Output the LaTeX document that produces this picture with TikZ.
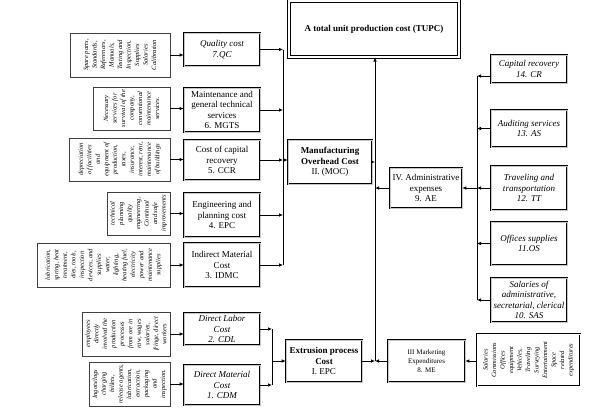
\documentclass[tikz,border=0pt]{standalone}
\usepackage{fontspec}
\setmainfont{Liberation Serif}
\usetikzlibrary{arrows.meta}
\begin{document}
\begin{tikzpicture}[x=1pt,y=-1pt,
  dbox/.style={draw=black, double=gray!45, double distance=1pt, line width=0.6pt, fill=white, inner sep=0pt, align=center, font=\fontsize{9}{10.5}\selectfont},
  ibox/.style={dbox, font=\fontsize{9}{10.5}\selectfont\itshape},
  topbox/.style={draw=black, double=white, double distance=1.6pt, line width=1pt, fill=white, inner sep=0pt, font=\fontsize{9}{11}\selectfont\bfseries},
  note/.style={draw=black!75, line width=0.7pt, fill=white, inner sep=0pt},
  ntext/.style={rotate=90, align=center, font=\fontsize{6.5}{8.5}\selectfont\itshape, inner sep=0pt},
  arr/.style={-{Latex[length=4pt,width=3.5pt]}, line width=0.7pt},
  ln/.style={line width=0.7pt}
]
\useasboundingbox (0,0) rectangle (590,408);

% top box
\node[topbox, minimum width=170, minimum height=56] (tupc) at (374,29) {A total unit production cost (TUPC)};

% left notes
\node[note, minimum width=100, minimum height=44] (nqc) at (120,55) {};
\node[ntext] (tqc) at (nqc) {Spare parts,\\Standards,\\References,\\Manuals,\\Testing and\\Inspection,\\Supplies\\Salaries\\Calibration};
\node[note, minimum width=77, minimum height=43] (nmgts) at (131.5,108.5) {};
\node[ntext] (tmgts) at (nmgts) {Necessary\\services for\\survival of the\\company,\\conventional\\maintenance\\services.};
\node[note, minimum width=101, minimum height=43] (nccr) at (119.5,159.5) {};
\node[ntext] (tccr) at (nccr) {depreciation\\of facilities\\and\\equipment of\\production,\\taxes,\\insurance,\\interest, rent,\\maintenance\\of buildings};
\node[note, minimum width=63, minimum height=43] (nepc) at (138.5,213.5) {};
\node[ntext] (tepc) at (nepc) {technical\\planning\\quality\\engineering,\\Continual\\and safe\\improvements};
\node[note, minimum width=133, minimum height=44] (nidmc) at (103.5,265) {};
\node[ntext] (tidmc) at (nidmc) {lubrication,\\spring, heat\\treatment,\\dies, tools,\\inspection\\devices, and\\supplies\\water,\\lighting,\\heating fuel,\\electricity\\power and\\maintenance\\supplies};
\node[note, minimum width=88, minimum height=44] (ncdl) at (126,334) {};
\node[ntext] (tcdl) at (ncdl) {employees\\directly\\involved the\\production\\processes\\from ore in\\raw, wages\\salaries,\\fringe, direct\\workers};
\node[note, minimum width=81, minimum height=44] (ncdm) at (129.5,384) {};
\node[ntext] (tcdm) at (ncdm) {Ingots/logs\\charging\\billets,\\release agents,\\lubrication,\\extraction,\\packaging\\and\\inspection.};

% middle-left boxes
\node[ibox, minimum width=76, minimum height=33] (qc) at (222,49.5) {Quality cost\\7.QC};
\node[dbox, minimum width=76, minimum height=44] (mgts) at (222,110) {Maintenance and\\general technical\\services\\6. MGTS};
\node[dbox, minimum width=76, minimum height=40] (ccr) at (222,160) {Cost of capital\\recovery\\5. CCR};
\node[dbox, minimum width=76, minimum height=44] (epc) at (222,215) {Engineering and\\planning cost\\4. EPC};
\node[dbox, minimum width=76, minimum height=44] (idmc) at (222,265) {Indirect Material\\Cost\\3. IDMC};
\node[ibox, minimum width=76, minimum height=32] (cdl) at (222,329) {Direct Labor\\Cost\\2. CDL};
\node[ibox, minimum width=76, minimum height=40] (cdm) at (222,385) {Direct Material\\Cost\\1. CDM};

% middle boxes
\node[dbox, minimum width=84, minimum height=44] (moc) at (330,162) {\textbf{Manufacturing}\\\textbf{Overhead Cost}\\II. (MOC)};
\node[dbox, minimum width=76, minimum height=42] (xpc) at (324,361) {\textbf{Extrusion process}\\\textbf{Cost}\\I. EPC};
\node[dbox, minimum width=72, minimum height=40] (ae) at (426,188) {IV. Administrative\\expenses\\9. AE};
\node[dbox, minimum width=77, minimum height=42, font=\fontsize{7}{9}\selectfont] (me) at (426.5,361) {III Marketing\\Expenditures\\8. ME};
\node[dbox, double=white, minimum width=103, minimum height=52] (nme) at (528.5,360) {};
\node[ntext] (tme) at (nme) {Salaries\\Commissions\\Offices\\equipment\\Vehicles,\\Traveling\\Surveying\\Entertainment\\Space\\related\\expenditures};

% right boxes
\node[ibox, minimum width=76, minimum height=28] (cr) at (529,69) {Capital recovery\\14. CR};
\node[ibox, minimum width=76, minimum height=37] (as) at (529,128.5) {Auditing services\\13. AS};
\node[ibox, minimum width=76, minimum height=44] (tt) at (529,188) {Traveling and\\transportation\\12. TT};
\node[ibox, minimum width=76, minimum height=43] (os) at (529,243.5) {Offices supplies\\11.OS};
\node[ibox, minimum width=76, minimum height=44] (sas) at (529,300) {Salaries of\\administrative,\\secretarial, clerical\\10. SAS};

% bus coordinates
\coordinate (lb1) at (283,49.5);
\coordinate (lb2) at (283,110);
\coordinate (lb3) at (283,160);
\coordinate (lb4) at (283,215);
\coordinate (lb5) at (283,265);
\coordinate (db1) at (272,329);
\coordinate (db2) at (272,385);
\coordinate (db3) at (272,361);
\coordinate (vm) at (375,361);
\coordinate (vmoc) at (375,162);
\coordinate (vae) at (375,188);
\coordinate (rb1) at (477,76);
\coordinate (rb2) at (477,128.5);
\coordinate (rb3) at (477,188);
\coordinate (rb4) at (477,243.5);
\coordinate (rb5) at (477,300);

% notes to boxes
\foreach \n/\b in {nqc/qc,nmgts/mgts,nccr/ccr,nepc/epc,nidmc/idmc,ncdl/cdl,ncdm/cdm}
  \draw[arr] (\n.east) -- (\n.east -| \b.west);

% MOC bus
\foreach \b/\c in {qc/lb1,mgts/lb2,ccr/lb3,epc/lb4,idmc/lb5}
  \draw[arr] (\b.east |- \c) -- (\c);
\draw[ln] (lb1) -- (lb5);
\draw[arr] (lb3) -- (lb3 -| moc.west);

% direct cost bus
\draw[arr] (cdl.east |- db1) -- (db1);
\draw[arr] (cdm.east |- db2) -- (db2);
\draw[ln] (db1) -- (db2);
\draw[arr] (db3) -- (db3 -| xpc.west);

% main vertical
\draw[arr] (xpc.east |- vm) -- (vm);
\draw[arr] (me.west |- vm) -- (vm);
\draw[arr] (vm) -- (vm |- tupc.south);
\draw[arr] (moc.east |- vmoc) -- (vmoc);
\draw[arr] (ae.west |- vae) -- (vae);

% marketing note
\draw[arr] (nme.west |- me) -- (me.east);

% admin bus
\draw[arr] (cr.west |- rb1) -- (rb1);
\draw[arr] (as.west |- rb2) -- (rb2);
\draw[arr] (tt.west |- rb3) -- (rb3);
\draw[arr] (os.west |- rb4) -- (rb4);
\draw[arr] (sas.west |- rb5) -- (rb5);
\draw[ln] (rb1) -- (rb5);
\draw[arr] (rb3) -- (rb3 -| ae.east);
\end{tikzpicture}
\end{document}
